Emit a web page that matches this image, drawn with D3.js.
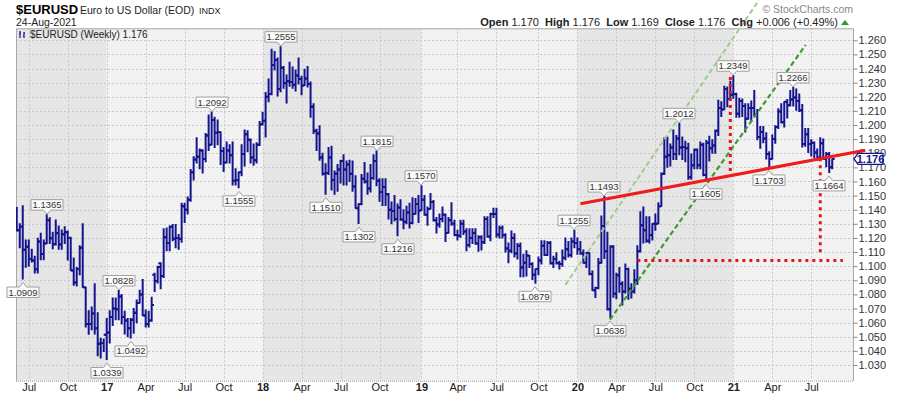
<!DOCTYPE html>
<html><head><meta charset="utf-8">
<script src="https://cdn.jsdelivr.net/npm/d3@7"></script>
<style>
body{margin:0;background:#fff}
svg{display:block;font-family:"Liberation Sans",Arial,sans-serif}
</style>
</head><body>
<svg id="c" width="900" height="396"></svg>
<script>
// ---- weekly OHLC data [open, high, low, close], one array per year segment (bars dated on Fridays)
const segmentStarts = ["2016-06-10","2017-01-06","2018-01-05","2019-01-11","2020-01-10","2021-01-08"];
const bars2016 = [
[1.1365,1.1415,1.1250,1.1255],[1.1255,1.1300,1.1130,1.1280],[1.1280,1.1428,1.0909,1.1117],[1.1117,1.1186,1.0993,1.1137],
[1.1137,1.1185,1.1000,1.1050],[1.1050,1.1120,1.1030,1.1040],[1.1040,1.1070,1.0952,1.0978],[1.0978,1.1198,1.0952,1.1174],
[1.1174,1.1234,1.1045,1.1087],[1.1087,1.1185,1.1045,1.1160],[1.1160,1.1365,1.1160,1.1325],[1.1325,1.1343,1.1160,1.1197],
[1.1197,1.1240,1.1123,1.1155],[1.1155,1.1327,1.1150,1.1233],[1.1233,1.1285,1.1120,1.1154],[1.1154,1.1257,1.1120,1.1226],
[1.1226,1.1280,1.1160,1.1240],[1.1240,1.1250,1.1043,1.1200],[1.1200,1.1205,1.0970,1.0970],[1.0970,1.1058,1.0865,1.0885],
[1.0885,1.0990,1.0860,1.0980],[1.0980,1.1145,1.0940,1.1130],[1.1130,1.1300,1.0850,1.0850],[1.0850,1.0850,1.0570,1.0590],
[1.0590,1.0685,1.0518,1.0590],[1.0590,1.0710,1.0550,1.0665],[1.0665,1.0875,1.0520,1.0560],[1.0560,1.0670,1.0365,1.0450],
[1.0450,1.0490,1.0350,1.0455],[1.0455,1.0485,1.0395,1.0515]];
const bars2017 = [
[1.0515,1.0630,1.0339,1.0530],[1.0530,1.0685,1.0455,1.0640],[1.0640,1.0775,1.0580,1.0700],[1.0700,1.0775,1.0620,1.0695],
[1.0695,1.0828,1.0620,1.0785],[1.0785,1.0800,1.0590,1.0640],[1.0640,1.0680,1.0520,1.0615],[1.0615,1.0630,1.0500,1.0560],
[1.0560,1.0630,1.0492,1.0620],[1.0620,1.0700,1.0525,1.0670],[1.0670,1.0760,1.0600,1.0740],[1.0740,1.0830,1.0740,1.0800],
[1.0800,1.0905,1.0650,1.0650],[1.0650,1.0690,1.0570,1.0590],[1.0590,1.0680,1.0570,1.0615],[1.0615,1.0780,1.0610,1.0725],
[1.0940,1.0950,1.0820,1.0895],[1.0895,1.1000,1.0880,1.0995],[1.1020,1.1025,1.0840,1.0930],[1.0930,1.1265,1.0920,1.1205],
[1.1205,1.1270,1.1110,1.1165],[1.1165,1.1285,1.1110,1.1280],[1.1280,1.1295,1.1180,1.1195],[1.1195,1.1295,1.1130,1.1200],
[1.1200,1.1225,1.1120,1.1195],[1.1195,1.1445,1.1170,1.1425],[1.1425,1.1445,1.1310,1.1400],[1.1400,1.1490,1.1370,1.1470],
[1.1470,1.1685,1.1460,1.1665],[1.1665,1.1775,1.1610,1.1755],[1.1755,1.1910,1.1730,1.1775],[1.1775,1.1830,1.1690,1.1820],
[1.1820,1.1825,1.1660,1.1760],[1.1760,1.1940,1.1740,1.1925],[1.1925,1.2070,1.1820,1.1860],[1.1860,1.2092,1.1860,1.2035],
[1.2035,1.2055,1.1840,1.1945],[1.1945,1.2035,1.1860,1.1950],[1.1950,1.1950,1.1720,1.1815],[1.1815,1.1840,1.1670,1.1735],
[1.1735,1.1880,1.1730,1.1820],[1.1820,1.1860,1.1730,1.1785],[1.1785,1.1880,1.1575,1.1605],[1.1605,1.1690,1.1575,1.1610],
[1.1610,1.1665,1.1555,1.1665],[1.1665,1.1860,1.1640,1.1795],[1.1795,1.1965,1.1710,1.1935],[1.1935,1.1960,1.1810,1.1895],
[1.1895,1.1900,1.1730,1.1770],[1.1770,1.1865,1.1715,1.1750],[1.1750,1.1875,1.1730,1.1860],[1.1860,1.2025,1.1855,1.2005]];
const bars2018 = [
[1.2005,1.2090,1.2000,1.2030],[1.2030,1.2230,1.1915,1.2200],[1.2200,1.2325,1.2165,1.2220],[1.2220,1.2537,1.2215,1.2425],
[1.2425,1.2520,1.2390,1.2460],[1.2460,1.2475,1.2205,1.2255],[1.2255,1.2555,1.2235,1.2405],[1.2405,1.2415,1.2260,1.2295],
[1.2295,1.2355,1.2155,1.2310],[1.2310,1.2445,1.2275,1.2305],[1.2305,1.2410,1.2260,1.2285],[1.2285,1.2390,1.2240,1.2350],
[1.2350,1.2475,1.2290,1.2325],[1.2325,1.2345,1.2215,1.2280],[1.2280,1.2395,1.2280,1.2330],[1.2330,1.2415,1.2270,1.2290],
[1.2290,1.2305,1.2055,1.2130],[1.2130,1.2150,1.1940,1.1960],[1.1960,1.1970,1.1820,1.1940],[1.1940,1.1995,1.1750,1.1770],
[1.1770,1.1800,1.1645,1.1655],[1.1655,1.1725,1.1510,1.1660],[1.1660,1.1840,1.1650,1.1770],[1.1770,1.1850,1.1540,1.1610],
[1.1610,1.1675,1.1510,1.1655],[1.1655,1.1720,1.1530,1.1685],[1.1685,1.1750,1.1590,1.1745],[1.1745,1.1790,1.1575,1.1685],
[1.1685,1.1745,1.1575,1.1720],[1.1720,1.1750,1.1600,1.1655],[1.1655,1.1745,1.1530,1.1565],[1.1565,1.1640,1.1410,1.1410],
[1.1410,1.1440,1.1302,1.1440],[1.1440,1.1650,1.1435,1.1620],[1.1620,1.1735,1.1590,1.1600],[1.1600,1.1660,1.1510,1.1550],
[1.1550,1.1720,1.1525,1.1625],[1.1625,1.1790,1.1615,1.1745],[1.1745,1.1815,1.1570,1.1605],[1.1605,1.1620,1.1460,1.1525],
[1.1525,1.1620,1.1430,1.1560],[1.1560,1.1620,1.1430,1.1510],[1.1510,1.1515,1.1335,1.1400],[1.1400,1.1455,1.1300,1.1390],
[1.1390,1.1500,1.1320,1.1335],[1.1335,1.1440,1.1216,1.1415],[1.1415,1.1470,1.1325,1.1330],[1.1330,1.1400,1.1265,1.1315],
[1.1315,1.1425,1.1300,1.1380],[1.1380,1.1445,1.1270,1.1305],[1.1305,1.1485,1.1300,1.1370],[1.1370,1.1480,1.1370,1.1440],
[1.1440,1.1500,1.1310,1.1395]];
const bars2019 = [
[1.1395,1.1570,1.1395,1.1470],[1.1470,1.1500,1.1360,1.1365],[1.1365,1.1420,1.1290,1.1405],[1.1405,1.1515,1.1405,1.1455],
[1.1455,1.1465,1.1320,1.1325],[1.1325,1.1345,1.1235,1.1295],[1.1295,1.1370,1.1275,1.1335],[1.1335,1.1420,1.1315,1.1365],
[1.1365,1.1370,1.1175,1.1235],[1.1235,1.1345,1.1235,1.1325],[1.1325,1.1450,1.1290,1.1300],[1.1300,1.1325,1.1215,1.1220],
[1.1220,1.1255,1.1185,1.1215],[1.1215,1.1325,1.1205,1.1300],[1.1300,1.1325,1.1225,1.1245],[1.1245,1.1265,1.1110,1.1150],
[1.1150,1.1265,1.1135,1.1200],[1.1200,1.1265,1.1160,1.1235],[1.1235,1.1265,1.1155,1.1160],[1.1160,1.1215,1.1105,1.1205],
[1.1205,1.1215,1.1115,1.1170],[1.1170,1.1350,1.1160,1.1335],[1.1335,1.1350,1.1205,1.1210],[1.1210,1.1375,1.1180,1.1370],
[1.1370,1.1410,1.1345,1.1370],[1.1370,1.1410,1.1205,1.1225],[1.1225,1.1285,1.1200,1.1270],[1.1270,1.1285,1.1200,1.1220],
[1.1220,1.1230,1.1100,1.1125],[1.1125,1.1165,1.1025,1.1110],[1.1110,1.1250,1.1095,1.1200],[1.1200,1.1230,1.1065,1.1090],
[1.1090,1.1160,1.1050,1.1145],[1.1145,1.1165,1.0925,1.0990],[1.0990,1.1085,1.0925,1.1025],[1.1025,1.1110,1.0930,1.1075],
[1.1075,1.1075,1.0990,1.1015],[1.1015,1.1025,1.0905,1.0940],[1.0940,1.0980,1.0879,1.0980],[1.0980,1.1065,1.0940,1.1040],
[1.1040,1.1180,1.1015,1.1145],[1.1145,1.1180,1.1075,1.1080],[1.1080,1.1175,1.1075,1.1165],[1.1165,1.1175,1.1015,1.1020],
[1.1020,1.1070,1.0990,1.1050],[1.1050,1.1095,1.1015,1.1020],[1.1020,1.1035,1.0980,1.1015],[1.1015,1.1115,1.1000,1.1060],
[1.1060,1.1200,1.1045,1.1120],[1.1120,1.1175,1.1065,1.1080],[1.1080,1.1200,1.1065,1.1175],[1.1175,1.1255,1.1130,1.1165]];
const bars2020 = [
[1.1165,1.1200,1.1085,1.1120],[1.1120,1.1175,1.1085,1.1090],[1.1090,1.1115,1.1020,1.1025],[1.1025,1.1095,1.0990,1.1095],
[1.1095,1.1095,1.0940,1.0945],[1.0945,1.0965,1.0830,1.0830],[1.0830,1.0850,1.0778,1.0845],[1.0845,1.1055,1.0840,1.1025],
[1.1025,1.1355,1.1020,1.1285],[1.1285,1.1493,1.1055,1.1105],[1.1105,1.1240,1.0690,1.0695],[1.0695,1.1145,1.0636,1.1140],
[1.1140,1.1145,1.0780,1.0805],[1.0805,1.0950,1.0770,1.0935],[1.0935,1.0990,1.0815,1.0875],[1.0875,1.0890,1.0725,1.0820],
[1.0820,1.1015,1.0810,1.0980],[1.0980,1.0985,1.0765,1.0840],[1.0840,1.0875,1.0775,1.0820],[1.0820,1.0975,1.0810,1.0900],
[1.0900,1.1145,1.0870,1.1105],[1.1105,1.1385,1.1100,1.1290],[1.1290,1.1420,1.1165,1.1255],[1.1255,1.1350,1.1170,1.1180],
[1.1180,1.1350,1.1165,1.1220],[1.1220,1.1300,1.1185,1.1300],[1.1300,1.1370,1.1255,1.1300],[1.1300,1.1450,1.1300,1.1425],
[1.1425,1.1660,1.1425,1.1655],[1.1655,1.1910,1.1650,1.1775],[1.1775,1.1915,1.1700,1.1785],[1.1785,1.1865,1.1710,1.1840],
[1.1840,1.1965,1.1755,1.1795],[1.1795,1.1925,1.1755,1.1905],[1.1905,1.2012,1.1790,1.1840],[1.1840,1.1915,1.1755,1.1845],
[1.1845,1.1885,1.1740,1.1835],[1.1835,1.1870,1.1615,1.1630],[1.1630,1.1795,1.1615,1.1715],[1.1715,1.1830,1.1690,1.1825],
[1.1825,1.1830,1.1690,1.1715],[1.1715,1.1880,1.1690,1.1860],[1.1860,1.1870,1.1640,1.1645],[1.1645,1.1890,1.1605,1.1875],
[1.1875,1.1920,1.1745,1.1835],[1.1835,1.1895,1.1800,1.1855],[1.1855,1.1965,1.1800,1.1960],[1.1960,1.2175,1.1925,1.2120],
[1.2120,1.2165,1.2060,1.2110],[1.2110,1.2275,1.2110,1.2255],[1.2255,1.2270,1.2130,1.2185],[1.2185,1.2310,1.2185,1.2215]];
const bars2021 = [
[1.2215,1.2349,1.2190,1.2220],[1.2220,1.2225,1.2055,1.2080],[1.2080,1.2190,1.2055,1.2170],[1.2170,1.2185,1.2060,1.2135],
[1.2135,1.2150,1.1950,1.2045],[1.2045,1.2150,1.2040,1.2120],[1.2120,1.2170,1.2025,1.2120],[1.2120,1.2245,1.2065,1.2075],
[1.2075,1.2110,1.1895,1.1915],[1.1915,1.1990,1.1835,1.1950],[1.1950,1.1990,1.1875,1.1905],[1.1905,1.1945,1.1760,1.1795],
[1.1795,1.1810,1.1703,1.1760],[1.1760,1.1930,1.1760,1.1900],[1.1900,1.1995,1.1870,1.1985],[1.1985,1.2115,1.1975,1.2095],
[1.2095,1.2150,1.2015,1.2020],[1.2020,1.2165,1.1985,1.2165],[1.2165,1.2180,1.2050,1.2140],[1.2140,1.2245,1.2135,1.2180],
[1.2180,1.2266,1.2135,1.2195],[1.2195,1.2255,1.2105,1.2170],[1.2170,1.2220,1.2095,1.2105],[1.2105,1.2145,1.1845,1.1865],
[1.1865,1.1975,1.1850,1.1935],[1.1935,1.1975,1.1805,1.1865],[1.1865,1.1895,1.1780,1.1875],[1.1875,1.1880,1.1770,1.1805],
[1.1805,1.1830,1.1750,1.1770],[1.1770,1.1910,1.1760,1.1870],[1.1870,1.1900,1.1760,1.1760],[1.1760,1.1805,1.1705,1.1795],
[1.1795,1.1805,1.1664,1.1700],[1.1700,1.1760,1.1690,1.1760]];
const segments = [bars2016,bars2017,bars2018,bars2019,bars2020,bars2021];

// ---- axis ticks
const xTickDates = ["2016-07-08","2016-10-07","2017-01-06","2017-04-07","2017-07-07","2017-10-06","2018-01-05","2018-04-06","2018-07-06","2018-10-05","2019-01-11","2019-04-05","2019-07-05","2019-10-11","2020-01-10","2020-04-10","2020-07-10","2020-10-09","2021-01-08","2021-04-09","2021-07-09"];
const xTickLabels = ["Jul","Oct","17","Apr","Jul","Oct","18","Apr","Jul","Oct","19","Apr","Jul","Oct","20","Apr","Jul","Oct","21","Apr","Jul"];
const yTicks = [1.03,1.04,1.05,1.06,1.07,1.08,1.09,1.10,1.11,1.12,1.13,1.14,1.15,1.16,1.17,1.18,1.19,1.20,1.21,1.22,1.23,1.24,1.25,1.26];
const yearBandStarts = ["2017-01-06","2018-01-05","2019-01-11","2020-01-10","2021-01-08"];

// ---- high/low annotations
const annDates = ["2016-06-24","2016-08-19","2017-01-06","2017-02-03","2017-03-03","2017-09-08","2017-11-10","2018-02-16","2018-06-01","2018-08-17","2018-09-28","2018-11-16","2019-01-11","2019-10-04","2020-01-03","2020-03-13","2020-03-27","2020-09-04","2020-11-06","2021-01-08","2021-04-02","2021-05-28","2021-08-20"];
const annValues = [1.0909,1.1365,1.0339,1.0828,1.0492,1.2092,1.1555,1.2555,1.1510,1.1302,1.1815,1.1216,1.1570,1.0879,1.1255,1.1493,1.0636,1.2012,1.1605,1.2349,1.1703,1.2266,1.1664];
const annKinds = ["L","H","L","H","L","H","L","H","L","L","H","L","H","L","H","H","L","H","L","H","L","H","L"];

// ---- drawn trend lines
const redTrend = [["2020-01-17",1.1442],["2021-11-12",1.1821]];
const lightChannel = [["2019-12-13",1.0868],["2021-03-09",1.2885]];
const darkChannel = [["2020-03-26",1.0621],["2021-06-26",1.2567]];
const redDotted = [
  [["2021-01-01",1.2340],["2021-01-01",1.1660]],
  [["2021-07-30",1.1765],["2021-07-30",1.1070]],
  [["2020-05-29",1.1040],["2021-09-21",1.1040]]];

const lastPrice = 1.176;

// ---------------------------------------------------------------
const P = d3.utcParse("%Y-%m-%d");
const DAY = 864e5;
const data = [];
segments.forEach((seg, si) => {
  const t0 = P(segmentStarts[si]).getTime();
  seg.forEach((b, i) => data.push({date: new Date(t0 + i*7*DAY), o:b[0], h:b[1], l:b[2], c:b[3]}));
});

const L = 16, R = 853, T = 28.3, B = 380.7;
const x = d3.scaleUtc().domain([P("2017-01-06"), P("2021-01-08")]).range([106.7, 733.3]);
const y = d3.scaleLinear().domain([1.03, 1.26]).range([365, 40.3]);

const svg = d3.select("#c");
svg.append("defs").append("clipPath").attr("id","clip")
  .append("rect").attr("x",L).attr("y",T).attr("width",R-L).attr("height",B-T);

// background bands
const bandEdges = [L, ...yearBandStarts.map(d => x(P(d))), R];
for (let i = 0; i < bandEdges.length-1; i++) {
  svg.append("rect").attr("x",bandEdges[i]).attr("y",T).attr("width",bandEdges[i+1]-bandEdges[i]).attr("height",B-T)
    .attr("fill", i%2===0 ? "#e6e6e6" : "#f2f2f2");
}
// grid
const grid = svg.append("g").attr("stroke","#c9c9c9").attr("stroke-width",1).attr("stroke-dasharray","2,2");
yTicks.forEach(v => grid.append("line").attr("x1",L).attr("x2",R).attr("y1",Math.round(y(v))+0.5).attr("y2",Math.round(y(v))+0.5));
xTickDates.forEach(d => { const xx = Math.round(x(P(d)))+0.5; grid.append("line").attr("x1",xx).attr("x2",xx).attr("y1",T).attr("y2",B); });

// frame
svg.append("path").attr("d",`M${L+0.5},${B}V${T+0.5}H${R+0.5}V${B}`).attr("fill","none").attr("stroke","#a8a8a8");
svg.append("line").attr("x1",L).attr("x2",R).attr("y1",B+0.5).attr("y2",B+0.5).attr("stroke","#999").attr("stroke-dasharray","1,1");

// y axis
const ya = svg.append("g").attr("transform",`translate(${R+0.5},0)`)
  .call(d3.axisRight(y).tickValues(yTicks).tickFormat(d3.format(".3f")).tickSize(4).tickPadding(1));
ya.select(".domain").remove();
ya.selectAll("line").attr("stroke","#888");
ya.selectAll("text").attr("font-size",11).attr("fill","#333").attr("font-family","Liberation Sans, Arial, sans-serif");

// x axis
const xa = svg.append("g").attr("transform",`translate(0,${B})`)
  .call(d3.axisBottom(x).tickValues(xTickDates.map(P)).tickFormat((d,i) => xTickLabels[i]).tickSize(0).tickPadding(3));
xa.select(".domain").remove();
xa.selectAll("text").attr("font-size",11).attr("fill","#222").attr("font-family","Liberation Sans, Arial, sans-serif")
  .attr("font-weight",(d,i) => /^\d+$/.test(xTickLabels[i]) ? "bold" : "normal");

// bars
const plot = svg.append("g").attr("clip-path","url(#clip)");
plot.selectAll("path.bar").data(data).join("path").attr("class","bar")
  .attr("d", d => { const cx = x(d.date);
    return `M${cx},${y(d.h)-0.5}V${y(d.l)+0.5}M${cx-2.4},${y(d.o)}H${cx}M${cx},${y(d.c)}H${cx+2.4}`; })
  .attr("fill","none").attr("stroke","#14148e").attr("stroke-width",2);

// trend lines
const line = d3.line().x(p => x(P(p[0]))).y(p => y(p[1]));
svg.append("path").attr("d",line(lightChannel)).attr("fill","none").attr("stroke","#9fcc8f").attr("stroke-width",2).attr("stroke-dasharray","5,3");
svg.append("path").attr("d",line(darkChannel)).attr("fill","none").attr("stroke","#3f9a32").attr("stroke-width",2.2).attr("stroke-dasharray","5,3");
redDotted.forEach(seg => svg.append("path").attr("d",line(seg)).attr("fill","none").attr("stroke","#e01818").attr("stroke-width",3).attr("stroke-dasharray","3,4"));
svg.append("path").attr("d",line(redTrend)).attr("fill","none").attr("stroke","#f01c1c").attr("stroke-width",3.2);

// annotations
const ann = svg.append("g").attr("font-size",9.5).attr("font-family","Liberation Sans, Arial, sans-serif");
annDates.forEach((d,i) => {
  const cx = Math.round(x(P(d))), v = annValues[i], w = 32, h = 10.5;
  const left = cx - w/2, right = cx + w/2;
  let path, top;
  if (annKinds[i] === "H") {
    const tip = y(v) - 0.5, bot = tip - 4; top = bot - h;
    path = `M${left},${top}H${right}V${bot}H${cx+3.5}L${cx},${tip}L${cx-3.5},${bot}H${left}Z`;
  } else {
    const tip = y(v) + 3.5, tp = tip + 4.5; top = tp;
    path = `M${left},${tp}H${cx-3.5}L${cx},${tip}L${cx+3.5},${tp}H${right}V${tp+h}H${left}Z`;
  }
  ann.append("path").attr("d",path).attr("fill","#fbfbfb").attr("stroke","#a0a0a0").attr("stroke-width",1);
  ann.append("text").attr("x",cx).attr("y",top+8.6).attr("text-anchor","middle").attr("fill","#333").text(v.toFixed(4));
});

// last price marker
const yl = y(lastPrice);
svg.append("path").attr("d",`M${R+1},${yl}L${R+5},${yl-5.5}H${R+30}V${yl+5.5}H${R+5}Z`)
  .attr("fill","#fff").attr("stroke","#14148e").attr("stroke-width",1.3);
svg.append("text").attr("x",R+17.5).attr("y",yl+4).attr("text-anchor","middle").attr("font-size",11).attr("font-weight","bold")
  .attr("fill","#14148e").text(lastPrice.toFixed(3));

// header
svg.append("text").attr("x",16).attr("y",14).attr("font-size",13).attr("font-weight","bold").attr("fill","#000").text("$EURUSD");
svg.append("text").attr("x",80).attr("y",14).attr("font-size",10.5).attr("fill","#222").text("Euro to US Dollar (EOD)");
svg.append("text").attr("x",199).attr("y",14).attr("font-size",9).attr("fill","#222").text("INDX");
svg.append("text").attr("x",16).attr("y",26).attr("font-size",10.5).attr("fill","#222").text("24-Aug-2021");
svg.append("text").attr("x",853).attr("y",13).attr("text-anchor","end").attr("font-size",10.5).attr("fill","#888").text("\u00a9 StockCharts.com");
const q = svg.append("text").attr("x",838).attr("y",26).attr("text-anchor","end").attr("font-size",11).attr("fill","#222");
[["Open",true],[" 1.170  ",false],["High",true],[" 1.176  ",false],["Low",true],[" 1.169  ",false],["Close",true],[" 1.176  ",false],["Chg",true],[" +0.006 (+0.49%)",false]]
  .forEach(([t,b]) => q.append("tspan").attr("font-weight", b ? "bold" : "normal").text(t));
q.attr("xml:space","preserve").style("white-space","pre");
svg.append("path").attr("d","M841,25H849L845,20Z").attr("fill","#2a9a2a");

// legend inside plot
const lg = svg.append("g");
lg.append("path").attr("d","M20,31V38M19,34H20M20,33H21M24,32V38M23,36H24M24,33H25").attr("stroke","#14148e").attr("stroke-width",1.2).attr("fill","none");
lg.append("text").attr("x",30).attr("y",38).attr("font-size",10).attr("fill","#222").text("$EURUSD (Weekly) 1.176");
</script>
</body></html>
